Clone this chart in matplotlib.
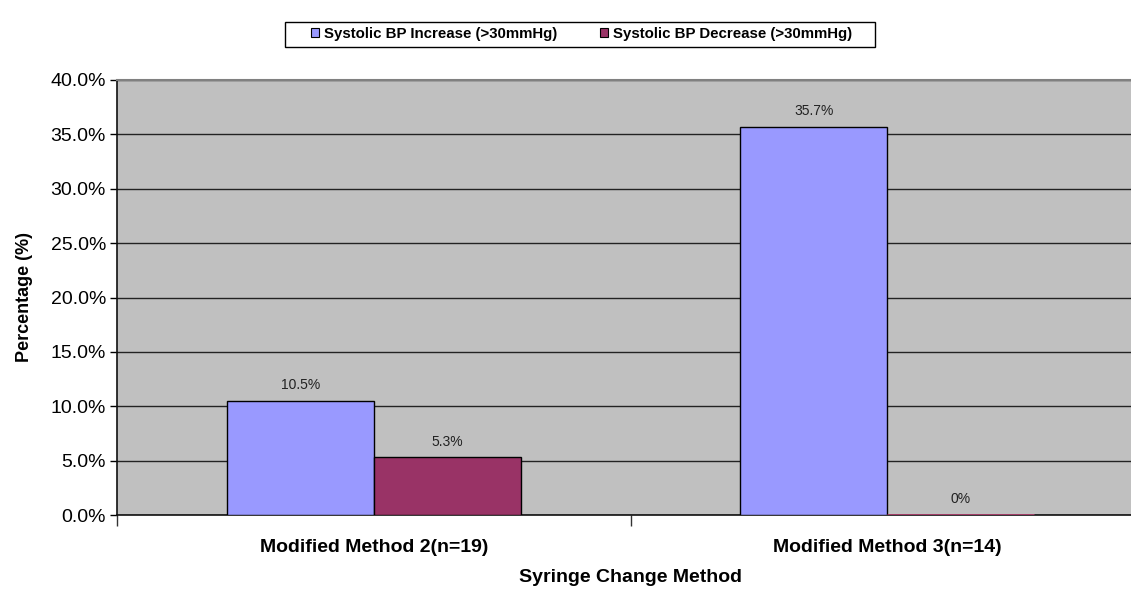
import matplotlib
matplotlib.use("Agg")
import matplotlib.pyplot as plt
from matplotlib.patches import Rectangle
import numpy as np

plt.rcParams['font.family'] = ['Liberation Sans', 'DejaVu Sans']

categories = ["Modified Method 2(n=19)", "Modified Method 3(n=14)"]
series_names = ["Systolic BP Increase (>30mmHg)", "Systolic BP Decrease (>30mmHg)"]
increase = [10.5, 35.7]
decrease = [5.3, 0.0]
value_labels = [["10.5%", "35.7%"], ["5.3%", "0%"]]
colors = ["#9999FF", "#993366"]
yticks = [0, 5, 10, 15, 20, 25, 30, 35, 40]

W, H = 1131, 591
fig = plt.figure(figsize=(W / 100, H / 100), dpi=100)
ax = fig.add_axes([117 / W, 76 / H, 1027 / W, 435 / H])
ax.set_facecolor("#C0C0C0")

x = np.arange(len(categories))
width = 0.286
series = [increase, decrease]
offsets = [-width / 2, width / 2]
for vals, off, col, name, labs in zip(series, offsets, colors, series_names, value_labels):
    edges = ["black" if v > 0 else "#B0406E" for v in vals]
    lws = [1.0 if v > 0 else 2.0 for v in vals]
    bars = ax.bar(x + off, vals, width, color=col, edgecolor=edges, linewidth=lws,
                  label=name, zorder=3)
    for b, v, t in zip(bars, vals, labs):
        ax.text(b.get_x() + b.get_width() / 2, v + 0.8, t, ha="center", va="bottom",
                fontsize=10, color="#222222", zorder=4)

ax.set_xlim(-0.5, 1.5)
ax.set_ylim(0, 40)
ax.set_yticks(yticks)
ax.set_yticklabels([f"{v:.1f}%" for v in yticks], fontsize=14)
ax.yaxis.grid(True, color="#222222", linewidth=1.0, zorder=1)
ax.set_axisbelow(True)

# category names centred, tick marks at the category boundaries
ax.set_xticks([-0.5, 0.5], minor=False)
ax.set_xticklabels([])
ax.set_xticks(x, minor=True)
ax.set_xticklabels(categories, minor=True, fontsize=14, fontweight="bold")
ax.tick_params(axis="x", which="minor", length=0, pad=17)
ax.tick_params(axis="x", which="major", length=8, width=1, color="#333333", direction="out")
ax.tick_params(axis="y", length=5, width=1, direction="out", pad=3)

for s in ["left", "bottom"]:
    ax.spines[s].set_color("#111111")
    ax.spines[s].set_linewidth(1.2)
ax.spines["top"].set_color("#808080")
ax.spines["top"].set_linewidth(1.5)
ax.spines["right"].set_visible(False)

ax.set_ylabel("Percentage (%)", fontsize=13, fontweight="bold")
ax.yaxis.set_label_coords((33 - 117) / 1027, 0.5)
ax.set_xlabel("Syringe Change Method", fontsize=14, fontweight="bold", va="top")
ax.xaxis.set_label_coords(0.5, (515 - 569) / 435)

# legend entries without their own frame; the box is drawn separately
leg = fig.legend(loc="center", bbox_to_anchor=(581.5 / W, 1 - 34 / H), ncol=2,
                 frameon=False, prop={"size": 10.8, "weight": "bold"},
                 handlelength=0.53, handleheight=0.53, handletextpad=0.33,
                 columnspacing=2.85, borderpad=0, borderaxespad=0)
for h in leg.legend_handles:
    h.set_edgecolor("black")
    h.set_linewidth(0.8)
fig.add_artist(Rectangle((285 / W, 1 - 47 / H), 590 / W, 25 / H, transform=fig.transFigure,
                         facecolor="none", edgecolor="black", linewidth=1.0))

fig.savefig("out.png", dpi=100)
